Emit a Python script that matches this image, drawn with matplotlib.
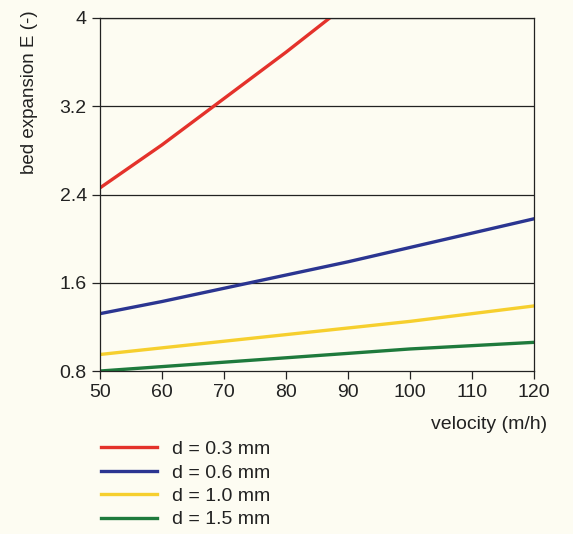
import matplotlib.pyplot as plt

plt.rcParams['font.family'] = ['Liberation Sans', 'DejaVu Sans']

# data
velocity = [50, 60, 70, 80, 90, 100, 110, 120]
red_v = [50, 60, 70, 80, 90]
red_E = [2.46, 2.85, 3.27, 3.69, 4.13]
blue_E = [1.32, 1.43, 1.55, 1.67, 1.79, 1.92, 2.05, 2.18]
yellow_E = [0.95, 1.01, 1.07, 1.13, 1.19, 1.25, 1.32, 1.39]
green_E = [0.80, 0.84, 0.88, 0.92, 0.96, 1.00, 1.03, 1.06]
labels = ["d = 0.3 mm", "d = 0.6 mm", "d = 1.0 mm", "d = 1.5 mm"]
yticks = [0.8, 1.6, 2.4, 3.2, 4]

bg = '#FDFCF2'
fig = plt.figure(figsize=(5.73, 5.34), dpi=100, facecolor=bg)
ax = fig.add_axes([0.1745, 0.3052, 0.7575, 0.6611])
ax.set_facecolor(bg)

lw = 2.4
ax.plot(red_v, red_E, color='#E4322B', lw=lw, label=labels[0])
ax.plot(velocity, blue_E, color='#2B3591', lw=lw, label=labels[1])
ax.plot(velocity, yellow_E, color='#F6CF2E', lw=lw, label=labels[2])
ax.plot(velocity, green_E, color='#1E7A3C', lw=lw, label=labels[3])

ax.set_xlim(50, 120)
ax.set_ylim(0.8, 4)
ax.set_xticks(range(50, 121, 10))
ax.set_yticks(yticks)
ax.set_yticklabels(['0.8', '1.6', '2.4', '3.2', '4'])
for y in yticks[1:]:
    ax.axhline(y, color='#222222', lw=0.9, zorder=0)

for s in ax.spines.values():
    s.set_color('#222222')
    s.set_linewidth(0.9)
ax.tick_params(direction='out', length=6, width=0.9, color='#222222',
               labelsize=14, labelcolor='#222222')

fig.text(0.955, 0.205, "velocity (m/h)", ha='right', va='center',
         fontsize=14, color='#222222')
fig.text(0.052, 0.98, "bed expansion E (-)", rotation=90, ha='center', va='top',
         fontsize=13.5, color='#222222')

ax.legend(loc='upper left', bbox_to_anchor=(0.176, 0.175), bbox_transform=fig.transFigure,
          frameon=False, fontsize=14, handlelength=2.9, handletextpad=0.75,
          labelspacing=0.3, borderaxespad=0, borderpad=0, labelcolor='#222222')

fig.savefig('out.png', dpi=100, facecolor=bg)
